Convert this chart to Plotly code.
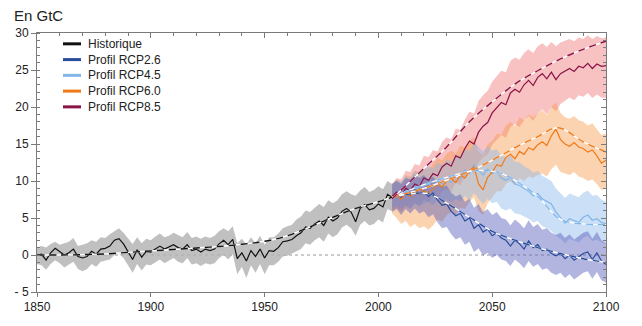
import plotly.graph_objects as go

# ---------------- data ----------------
hist_years = list(range(1850, 2007, 2))
hist_line = [0.0, 0.1, -0.7, 0.3, 0.9, 0.5, 0.0, 0.3, 0.8, -0.2,
             -0.4, -0.2, 0.5, 0.1, 0.8, 0.9, 1.2, 2.0, 2.2, 1.5,
             0.5, -0.6, 0.7, -0.3, 0.5, 0.4, 0.8, 1.2, 0.8, 1.1,
             1.4, 1.0, 0.8, 1.4, 0.6, 0.8, 0.4, 0.8, 0.6, 0.8,
             1.5, 2.0, 1.4, 2.1, -0.5, 0.3, -0.8, 0.6, -0.2, 0.8,
             -0.4, 0.6, 0.5, 1.0, 1.8, 1.9, 2.1, 2.6, 3.0, 3.8,
             3.6, 4.2, 4.6, 4.0, 5.1, 4.6, 5.0, 5.9, 6.3, 5.8,
             4.5, 6.3, 6.8, 6.1, 6.3, 6.9, 6.5, 8.2, 7.8]
hist_hi = [1.0, 1.2, 1.0, 1.5, 1.8, 1.4, 1.6, 1.8, 2.3, 1.2,
           1.4, 1.6, 2.0, 1.8, 2.4, 2.3, 2.8, 3.2, 3.6, 3.0,
           2.2, 1.5, 2.4, 1.6, 2.2, 2.0, 2.5, 2.9, 2.4, 2.6,
           3.0, 2.7, 2.4, 3.1, 2.3, 2.5, 2.2, 2.5, 2.3, 2.6,
           3.2, 3.6, 3.2, 3.9, 1.6, 2.2, 1.4, 2.4, 1.6, 2.6,
           1.4, 2.4, 2.4, 2.9, 3.6, 3.9, 4.1, 4.8, 5.2, 6.0,
           5.8, 6.4, 6.9, 6.5, 7.4, 7.0, 7.4, 8.2, 8.6, 8.2,
           8.0, 8.7, 9.2, 8.5, 8.8, 9.3, 8.9, 10.0, 9.6]
hist_lo = [-1.2, -1.4, -2.0, -1.2, -0.7, -1.1, -1.7, -1.3, -0.9, -1.9,
           -2.2, -1.9, -1.2, -1.6, -0.9, -0.8, -0.6, 0.0, 0.2, -0.4,
           -1.4, -2.4, -1.2, -2.1, -1.3, -1.4, -1.0, -0.6, -1.1, -0.8,
           -0.4, -0.9, -1.1, -0.4, -1.3, -1.1, -1.5, -1.1, -1.3, -1.1,
           -0.4, 0.0, -0.6, 0.1, -2.6, -1.6, -3.1, -1.4, -2.4, -1.2,
           -2.6, -1.4, -1.4, -0.9, -0.2, -0.1, 0.1, 0.5, 0.8, 1.6,
           1.4, 2.0, 2.4, 1.8, 2.9, 2.4, 2.8, 3.7, 4.1, 3.6,
           2.6, 4.1, 4.6, 4.0, 4.2, 4.8, 4.4, 6.2, 5.9]
hist_trend_years = [1850, 1860, 1870, 1880, 1890, 1900, 1910, 1920, 1930,
                    1940, 1950, 1960, 1970, 1980, 1990, 2000, 2006]
hist_trend = [0.0, 0.0, 0.05, 0.15, 0.35, 0.55, 0.75, 0.95, 1.15,
              1.45, 1.85, 2.6, 3.8, 5.1, 6.3, 7.2, 7.8]

rcp_years = list(range(2006, 2101, 2))

rcp26_line = [7.8, 8.3, 7.6, 8.5, 8.0, 8.8, 8.2, 8.6, 7.9, 8.4,
              7.4, 6.7, 6.9, 5.9, 5.3, 5.6, 4.6, 5.0, 3.6, 4.1,
              3.1, 3.5, 2.6, 3.0, 2.3, 2.0, 1.2, 2.0, 1.5, 0.8,
              1.9, 1.0, 1.4, 0.6, 0.8, 0.2, -0.1, 0.2, -0.5, 0.0,
              -0.7, -0.3, 0.2, 0.4, -0.6, 0.3, -0.8, -1.3]
rcp26_hi = [9.6, 10.0, 9.6, 10.4, 10.2, 10.8, 10.4, 10.8, 10.2, 10.6,
            9.8, 9.2, 9.4, 8.4, 7.9, 8.2, 7.2, 7.6, 6.4, 6.9,
            5.8, 6.2, 5.4, 5.8, 5.0, 4.8, 4.0, 4.8, 4.3, 3.6,
            4.7, 3.8, 4.2, 3.4, 3.6, 3.0, 2.7, 3.0, 2.3, 2.8,
            2.1, 2.5, 3.0, 3.2, 2.2, 3.1, 2.0, 1.6]
rcp26_lo = [5.8, 6.2, 5.4, 6.2, 5.6, 6.3, 5.6, 5.9, 5.1, 5.5,
            4.4, 3.6, 3.8, 2.8, 2.1, 2.4, 1.4, 1.8, 0.4, 0.9,
            -0.1, 0.3, -0.4, 0.0, -0.6, -0.8, -1.5, -0.6, -1.1, -1.8,
            -0.8, -1.6, -1.2, -2.0, -1.8, -2.4, -2.7, -2.4, -3.1, -2.6,
            -3.3, -2.9, -2.4, -2.2, -3.2, -2.3, -3.4, -3.7]
rcp26_trend_years = [2006, 2015, 2022, 2030, 2040, 2050, 2060, 2070, 2080, 2090, 2100]
rcp26_trend = [7.8, 8.3, 8.3, 7.0, 5.1, 3.2, 2.0, 1.0, 0.2, -0.5, -1.0]

rcp45_line = [7.8, 8.4, 8.0, 8.7, 8.3, 9.2, 8.8, 9.4, 9.6, 9.2,
              10.0, 9.6, 10.2, 9.8, 10.8, 10.4, 11.5, 11.0, 12.2, 11.4,
              10.8, 11.6, 11.0, 11.3, 10.4, 10.1, 10.4, 9.6, 9.4, 9.0,
              8.6, 8.0, 8.3, 7.6, 7.3, 6.9, 5.8, 5.0, 4.3, 4.9,
              4.6, 4.4, 5.1, 5.4, 4.7, 4.9, 4.4, 4.2]
rcp45_hi = [9.4, 10.2, 9.9, 10.7, 10.4, 11.4, 11.0, 11.8, 12.0, 11.7,
            12.5, 12.2, 12.9, 12.6, 13.6, 13.3, 14.4, 14.0, 15.2, 14.6,
            14.0, 14.7, 14.1, 14.3, 13.4, 13.2, 13.4, 12.6, 12.5, 12.0,
            11.7, 11.1, 11.4, 10.7, 10.4, 10.0, 9.0, 8.3, 7.7, 8.3,
            8.0, 7.8, 8.4, 8.7, 8.0, 8.1, 7.5, 7.2]
rcp45_lo = [6.2, 6.7, 6.2, 6.8, 6.3, 7.0, 6.6, 7.0, 7.2, 6.7,
            7.5, 7.0, 7.6, 7.1, 7.6, 7.2, 8.0, 7.4, 8.4, 7.6,
            6.9, 7.6, 7.0, 7.2, 6.3, 6.0, 6.3, 5.6, 5.5, 5.2,
            4.9, 4.4, 4.6, 3.9, 3.6, 3.2, 2.6, 2.2, 1.6, 2.2,
            1.9, 1.7, 2.3, 2.6, 1.9, 2.1, 1.7, 1.5]
rcp45_trend_years = [2006, 2020, 2030, 2040, 2048, 2055, 2062, 2070, 2080, 2090, 2100]
rcp45_trend = [7.8, 9.5, 10.5, 11.3, 11.4, 10.9, 9.7, 7.9, 4.8, 4.2, 4.1]

rcp60_line = [7.8, 8.2, 7.5, 8.4, 7.9, 8.6, 8.2, 8.7, 8.3, 9.0,
              9.6, 9.2, 10.0, 10.3, 9.8, 10.8, 10.4, 11.4, 11.9, 9.6,
              8.8, 10.5, 11.2, 12.2, 12.0, 13.2, 13.6, 13.0, 14.0, 13.6,
              14.5, 14.2, 14.9, 15.3, 14.8, 16.1, 17.0, 15.6, 15.0, 14.7,
              15.2, 14.6, 14.4, 13.9, 14.2, 13.4, 12.4, 12.8]
rcp60_hi = [9.6, 10.2, 9.8, 10.8, 10.6, 11.4, 11.2, 11.8, 11.6, 12.4,
            13.1, 12.8, 13.7, 14.1, 13.7, 14.8, 14.5, 15.4, 16.0, 14.0,
            13.4, 15.0, 15.4, 16.4, 16.3, 17.5, 18.0, 17.4, 18.6, 18.2,
            19.0, 18.6, 19.2, 19.6, 18.9, 20.0, 20.6, 19.2, 18.6, 18.4,
            18.8, 18.2, 18.0, 17.5, 17.8, 17.0, 16.2, 16.4]
rcp60_lo = [5.6, 5.0, 4.2, 4.6, 3.8, 4.2, 3.6, 3.9, 3.4, 4.0,
            4.8, 4.5, 5.4, 5.8, 5.4, 6.4, 6.2, 7.2, 7.8, 5.9,
            5.4, 7.0, 7.8, 8.6, 8.6, 9.6, 10.0, 9.4, 10.4, 10.0,
            10.6, 10.4, 10.8, 11.0, 10.6, 11.6, 12.2, 11.2, 11.0, 10.8,
            11.2, 10.6, 10.4, 10.0, 10.2, 9.6, 8.8, 9.0]
rcp60_trend_years = [2006, 2020, 2030, 2040, 2050, 2060, 2070, 2079, 2090, 2100]
rcp60_trend = [7.8, 9.0, 10.1, 11.3, 12.8, 14.5, 16.0, 17.2, 15.3, 13.9]

rcp85_line = [7.9, 8.5, 8.0, 9.0, 8.7, 9.6, 9.3, 10.4, 10.1, 11.0,
              10.7, 11.9, 12.4, 12.0, 13.4, 13.1, 14.4, 15.4, 15.0, 16.6,
              17.4, 17.9, 19.2, 19.9, 20.6, 20.3, 21.9, 22.4, 22.0, 23.0,
              23.6, 22.9, 24.0, 24.5, 23.8, 24.7, 23.7, 24.5, 24.9, 25.2,
              24.8, 25.5, 25.3, 25.9, 25.2, 25.8, 25.5, 25.6]
rcp85_hi = [9.6, 10.4, 10.2, 11.4, 11.2, 12.3, 12.1, 13.4, 13.2, 14.2,
            14.0, 15.3, 15.9, 15.6, 17.1, 16.9, 18.3, 19.4, 19.1, 20.8,
            21.6, 22.2, 23.4, 24.2, 24.9, 24.7, 26.2, 26.7, 26.4, 27.3,
            27.8, 27.3, 28.2, 28.6, 28.1, 28.8, 28.2, 28.7, 29.0, 29.2,
            28.9, 29.4, 29.2, 29.7, 29.2, 29.6, 29.3, 29.4]
rcp85_lo = [6.0, 6.4, 5.8, 6.6, 6.2, 7.0, 6.6, 7.5, 7.1, 7.9,
            7.5, 8.6, 9.0, 8.5, 9.8, 9.4, 10.6, 11.5, 11.0, 12.5,
            13.2, 13.6, 14.9, 15.5, 16.2, 15.8, 17.3, 17.7, 17.3, 18.2,
            18.8, 18.1, 19.2, 19.7, 19.0, 20.0, 19.4, 20.4, 20.9, 21.3,
            20.9, 21.6, 21.4, 21.9, 21.2, 21.7, 21.3, 21.2]
rcp85_trend_years = [2006, 2020, 2030, 2040, 2050, 2060, 2070, 2080, 2090, 2100]
rcp85_trend = [7.6, 11.7, 14.6, 18.0, 20.7, 23.1, 24.9, 26.5, 27.8, 28.9]

x_ticks = [1850, 1900, 1950, 2000, 2050, 2100]
y_ticks = [-5, 0, 5, 10, 15, 20, 25, 30]
y_ticktext = ["- 5", "0", "5", "10", "15", "20", "25", "30"]

legend_names = ["Historique", "Profil RCP2.6", "Profil RCP4.5", "Profil RCP6.0", "Profil RCP8.5"]
legend_colors = ["#111111", "#2a4d9b", "#82b6e8", "#f07a17", "#8b1346"]

# ---------------- figure ----------------
FONT = "Liberation Sans, Arial, Helvetica, sans-serif"
AXIS_GREY = "#7a7a7a"

fig = go.Figure()

# zero reference line
fig.add_trace(go.Scatter(x=[x_ticks[0], x_ticks[-1]], y=[0, 0], mode="lines",
                         line=dict(color="#9a9a9a", width=1.2, dash="dot"),
                         hoverinfo="skip", showlegend=False))


def band(years, lo, hi, color):
    fig.add_trace(go.Scatter(x=list(years) + list(years)[::-1],
                             y=list(hi) + list(lo)[::-1],
                             fill="toself", fillcolor=color, mode="lines",
                             line=dict(width=0), hoverinfo="skip", showlegend=False))


band(hist_years, hist_lo, hist_hi, "rgba(178,178,178,0.82)")
band(rcp_years, rcp85_lo, rcp85_hi, "rgba(240,120,120,0.45)")
band(rcp_years, rcp60_lo, rcp60_hi, "rgba(248,150,70,0.42)")
band(rcp_years, rcp45_lo, rcp45_hi, "rgba(140,185,235,0.45)")
band(rcp_years, rcp26_lo, rcp26_hi, "rgba(85,90,185,0.45)")

series = [
    (hist_years, hist_line, hist_trend_years, hist_trend, legend_colors[0]),
    (rcp_years, rcp26_line, rcp26_trend_years, rcp26_trend, legend_colors[1]),
    (rcp_years, rcp45_line, rcp45_trend_years, rcp45_trend, legend_colors[2]),
    (rcp_years, rcp60_line, rcp60_trend_years, rcp60_trend, legend_colors[3]),
    (rcp_years, rcp85_line, rcp85_trend_years, rcp85_trend, legend_colors[4]),
]

for yrs, vals, tyrs, tvals, col in series:
    fig.add_trace(go.Scatter(x=yrs, y=vals, mode="lines",
                             line=dict(color=col, width=1.2),
                             hoverinfo="skip", showlegend=False))

for yrs, vals, tyrs, tvals, col in series:
    fig.add_trace(go.Scatter(x=tyrs, y=tvals, mode="lines",
                             line=dict(color="white", width=1.4, shape="spline"),
                             hoverinfo="skip", showlegend=False))
    fig.add_trace(go.Scatter(x=tyrs, y=tvals, mode="lines",
                             line=dict(color=col, width=1.4, shape="spline", dash="7px,5px"),
                             hoverinfo="skip", showlegend=False))

# carrier for the top/right tick axes
fig.add_trace(go.Scatter(x=[x_ticks[0]], y=[0], xaxis="x2", yaxis="y2", mode="markers",
                         marker=dict(opacity=0), hoverinfo="skip", showlegend=False))

# plot box in pixels
L, R, T, B = 37, 606, 33, 296
W, H = 642, 326

fig.update_layout(
    width=W, height=H,
    margin=dict(l=L, r=W - R, t=T, b=H - B, pad=0),
    paper_bgcolor="white", plot_bgcolor="white",
    font=dict(family=FONT, size=12, color="#222222"),
    showlegend=False,
    xaxis=dict(range=[1850, 2100], tickvals=x_ticks, ticks="outside", ticklen=4,
               tickcolor=AXIS_GREY, showline=True, linecolor=AXIS_GREY, linewidth=1,
               showgrid=False, zeroline=False, tickfont=dict(size=12, color="#222")),
    xaxis2=dict(range=[1850, 2100], overlaying="x", side="top", tick0=1850, dtick=50,
                ticks="inside", ticklen=5, tickcolor=AXIS_GREY, showticklabels=False,
                minor=dict(dtick=10, tick0=1850, ticks="inside", ticklen=3, tickcolor=AXIS_GREY),
                showline=True, linecolor=AXIS_GREY, linewidth=1, showgrid=False, zeroline=False),
    yaxis=dict(range=[-5, 30], tickvals=y_ticks, ticktext=y_ticktext, ticks="outside",
               ticklen=5, tickcolor=AXIS_GREY,
               minor=dict(dtick=1, tick0=0, ticks="inside", ticklen=3, tickcolor=AXIS_GREY),
               showline=True, linecolor=AXIS_GREY, linewidth=1, showgrid=False,
               zeroline=False, tickfont=dict(size=12, color="#222")),
    yaxis2=dict(range=[-5, 30], overlaying="y", side="right", tick0=0, dtick=5,
                ticks="inside", ticklen=5, tickcolor=AXIS_GREY, showticklabels=False,
                minor=dict(dtick=1, tick0=0, ticks="inside", ticklen=3, tickcolor=AXIS_GREY),
                showline=True, linecolor=AXIS_GREY, linewidth=1, showgrid=False, zeroline=False),
)


def px_x(px):
    return (px - L) / (R - L)


def px_y(py):
    return (B - py) / (B - T)


# unit label
fig.add_annotation(text="En GtC", xref="paper", yref="paper", x=px_x(12), y=px_y(15),
                   xanchor="left", yanchor="middle", showarrow=False,
                   font=dict(family=FONT, size=15, color="#222222"))

# legend
for i, (name, col) in enumerate(zip(legend_names, legend_colors)):
    ry = 44 + 16 * i
    fig.add_shape(type="line", xref="paper", yref="paper",
                  x0=px_x(63), x1=px_x(81), y0=px_y(ry), y1=px_y(ry),
                  line=dict(color=col, width=3))
    fig.add_annotation(text=name, xref="paper", yref="paper", x=px_x(86), y=px_y(ry),
                       xanchor="left", yanchor="middle", showarrow=False,
                       font=dict(family=FONT, size=12, color="#222222"))

fig.write_html("out.html")
